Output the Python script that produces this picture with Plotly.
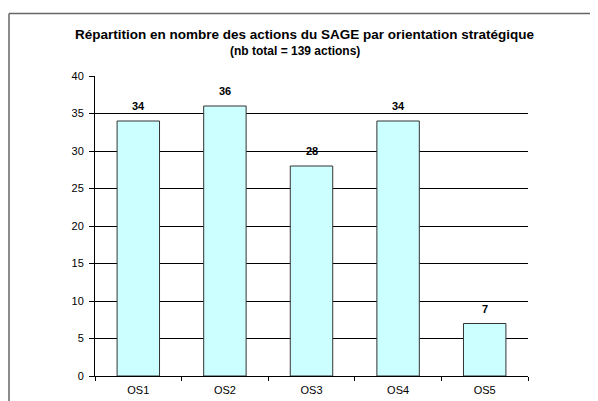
import plotly.graph_objects as go

categories = ["OS1", "OS2", "OS3", "OS4", "OS5"]
values = [34, 36, 28, 34, 7]
title_line1 = "Répartition en nombre des actions du SAGE par orientation stratégique"
title_line2 = "(nb total = 139 actions)"
y_ticks = [0, 5, 10, 15, 20, 25, 30, 35, 40]

FONT = "Liberation Sans, Arial, sans-serif"

fig = go.Figure()
fig.add_trace(go.Bar(
    x=categories, y=values,
    marker=dict(color="#CCFFFF", line=dict(color="#333333", width=1)),
    width=0.49,
    hoverinfo="skip",
))

annotations = []
for c, v in zip(categories, values):
    annotations.append(dict(
        x=c, y=v, xref="x", yref="y", text=f"<b>{v}</b>", showarrow=False,
        yanchor="bottom", yshift=7, font=dict(family=FONT, size=11, color="black"),
    ))
annotations.append(dict(
    x=0.486, y=1.0, xref="paper", yref="paper", text="<b>" + title_line1 + "</b>",
    showarrow=False, xanchor="center", yanchor="middle", yshift=42,
    font=dict(family=FONT, size=13.5, color="black"),
))
annotations.append(dict(
    x=0.462, y=1.0, xref="paper", yref="paper", text="<b>" + title_line2 + "</b>",
    showarrow=False, xanchor="center", yanchor="middle", yshift=25.5,
    font=dict(family=FONT, size=12, color="black"),
))

BORDER = dict(color="#666666", width=1.5)
fig.update_layout(
    width=590, height=393,
    margin=dict(l=87, r=70, t=68, b=25, autoexpand=False),
    paper_bgcolor="white", plot_bgcolor="white",
    showlegend=False,
    font=dict(family=FONT, size=11, color="black"),
    annotations=annotations,
    shapes=[
        dict(type="line", xref="paper", yref="paper", x0=-0.1986, x1=1.4,
             y0=1.2083, y1=1.2083, line=BORDER, layer="below"),
        dict(type="line", xref="paper", yref="paper", x0=-0.1986, x1=-0.1986,
             y0=-0.3, y1=1.2083, line=BORDER, layer="below"),
    ],
    xaxis=dict(
        type="category", showgrid=False, showline=True, linecolor="black", linewidth=1,
        ticks="outside", tickson="boundaries", ticklen=4, tickcolor="black",
        ticklabelstandoff=4,
        tickfont=dict(family=FONT, size=11, color="black"),
        range=[-0.5, 4.5],
    ),
    yaxis=dict(
        range=[0, 40], tickvals=y_ticks, showgrid=True, gridcolor="black", gridwidth=1,
        showline=True, linecolor="black", linewidth=1,
        ticks="outside", ticklen=5, tickcolor="black",
        ticklabelstandoff=3,
        tickfont=dict(family=FONT, size=11, color="black"),
        zeroline=False,
    ),
)

fig.write_html(
    "out.html",
    post_script="document.documentElement.style.overflow='hidden';document.body.style.overflow='hidden';",
)
